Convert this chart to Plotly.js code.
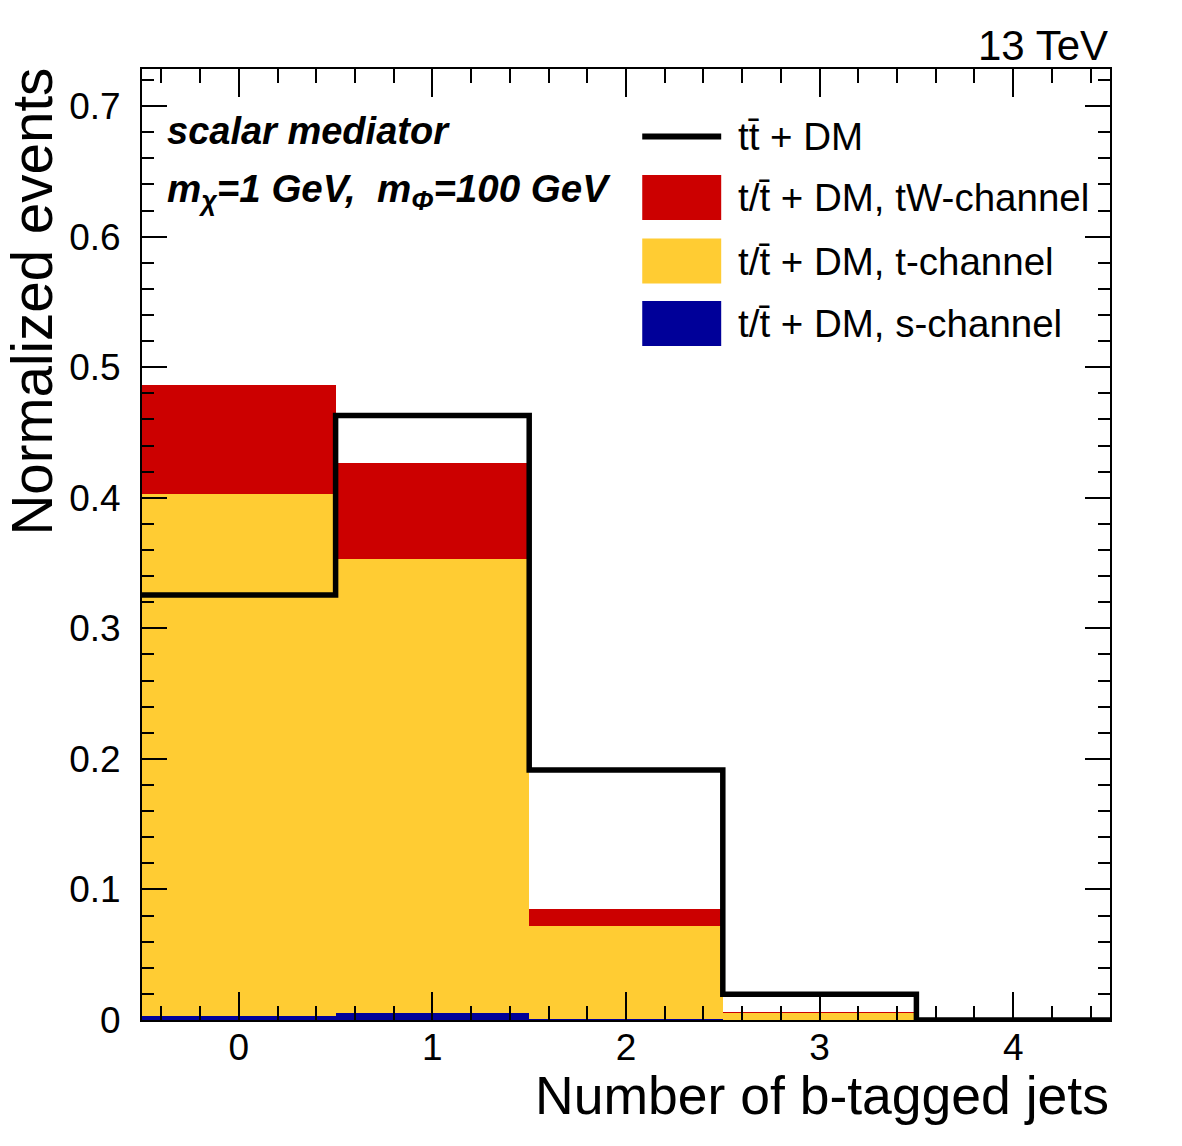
<!DOCTYPE html>
<html>
<head>
<meta charset="utf-8">
<script src="https://cdn.plot.ly/plotly-3.0.1.min.js"></script>
<style>html,body{margin:0;padding:0;background:#fff;}#chart{width:1182px;height:1146px;}</style>
</head>
<body>
<div id="chart"></div>
<script>
// ---- data ----
const categories = [0, 1, 2, 3, 4];
const sChannel  = [0.003, 0.005, 0.001, 0.0003, 0];
const tChannel  = [0.400, 0.348, 0.071, 0.0047, 0];
const tWChannel = [0.083, 0.074, 0.0128, 0.0012, 0];
const ttDM      = [0.3255, 0.463, 0.1915, 0.0197, 0];
const xTickVals = [0, 1, 2, 3, 4];
const yTickVals = [0, 0.1, 0.2, 0.3, 0.4, 0.5, 0.6, 0.7];
const legendNames = ["tt\u0304 + DM", "t/t\u0304 + DM, tW-channel", "t/t\u0304 + DM, t-channel", "t/t\u0304 + DM, s-channel"];
const colRed = "#cc0000", colYellow = "#ffcc33", colBlue = "#000099";

const FONT = "Liberation Sans, Arial, Helvetica, sans-serif";

// step-line edges for the tt+DM histogram
const edges = categories.map(c => c - 0.5).concat([categories[categories.length - 1] + 0.5]);
const stepY = ttDM.concat([ttDM[ttDM.length - 1]]);

const traces = [
  {type: "bar", x: categories, y: sChannel, marker: {color: colBlue, line: {width: 0}}, width: 1, showlegend: false, hoverinfo: "skip"},
  {type: "bar", x: categories, y: tChannel, marker: {color: colYellow, line: {width: 0}}, width: 1, showlegend: false, hoverinfo: "skip"},
  {type: "bar", x: categories, y: tWChannel, marker: {color: colRed, line: {width: 0}}, width: 1, showlegend: false, hoverinfo: "skip"},
  {type: "scatter", mode: "lines", x: edges, y: stepY, line: {color: "#000", width: 5.5, shape: "hv"}, showlegend: false, hoverinfo: "skip"}
];

// manual ROOT-style legend
const W = 1182, H = 1146, ML = 141.5, MR = 72, MT = 69, MB = 126;
const pw = W - ML - MR, ph = H - MT - MB;
const px = X => (X - ML) / pw;
const py = Y => (H - MB - Y) / ph;

const legY = [136.5, 197.5, 261, 323.5];
const legFill = [null, colRed, colYellow, colBlue];
const shapes = [];
const annotations = [];
legY.forEach((yy, i) => {
  if (i === 0) {
    shapes.push({type: "line", xref: "paper", yref: "paper", x0: px(642), x1: px(721), y0: py(yy), y1: py(yy), line: {color: "#000", width: 6}});
  } else {
    shapes.push({type: "rect", xref: "paper", yref: "paper", x0: px(642), x1: px(721), y0: py(yy - 22.5), y1: py(yy + 22.5), fillcolor: legFill[i], line: {width: 0}});
  }
  annotations.push({xref: "paper", yref: "paper", x: px(736), y: py(yy), xanchor: "left", yanchor: "middle", showarrow: false,
    text: legendNames[i], font: {family: FONT, size: 38.5, color: "#000"}});
});

annotations.push({xref: "paper", yref: "paper", x: px(165), y: py(131), xanchor: "left", yanchor: "middle", showarrow: false,
  text: "<b><i>scalar mediator</i></b>", font: {family: FONT, size: 38, color: "#000"}});
annotations.push({xref: "paper", yref: "paper", x: px(165), y: py(192), xanchor: "left", yanchor: "middle", showarrow: false,
  text: "<b><i>m<sub>\u03c7</sub>=1 GeV,  m<sub>\u03a6</sub>=100 GeV</i></b>", font: {family: FONT, size: 38.5, color: "#000"}});
annotations.push({xref: "paper", yref: "paper", x: 1, y: py(46), xanchor: "right", yanchor: "middle", showarrow: false,
  text: "13 TeV", font: {family: FONT, size: 42, color: "#000"}});
annotations.push({xref: "paper", yref: "paper", x: 1.001, y: py(1095), xanchor: "right", yanchor: "middle", showarrow: false,
  text: "Number of b-tagged jets", font: {family: FONT, size: 53.5, color: "#000"}});
annotations.push({xref: "paper", yref: "paper", x: px(31), y: py(66), xanchor: "center", yanchor: "top", textangle: -90, showarrow: false,
  text: "Normalized events", font: {family: FONT, size: 56.5, color: "#000"}});

const layout = {
  width: W, height: H,
  margin: {l: ML, r: MR, t: MT, b: MB, pad: 0},
  paper_bgcolor: "#fff", plot_bgcolor: "#fff",
  barmode: "stack", bargap: 0,
  showlegend: false,
  font: {family: FONT, color: "#000"},
  xaxis: {
    range: [-0.5, 4.5], tickmode: "array", tickvals: xTickVals, ticktext: xTickVals.map(String),
    ticks: "inside", ticklen: 28, tickwidth: 2, tickcolor: "#000",
    minor: {dtick: 0.2, tick0: 0, ticks: "inside", ticklen: 14, tickwidth: 2, tickcolor: "#000"},
    showline: true, linecolor: "#000", linewidth: 2, mirror: "allticks",
    showgrid: false, zeroline: false, tickfont: {family: FONT, size: 37, color: "#000"},
    ticklabelstandoff: -6
  },
  yaxis: {
    range: [0, 0.7284], tickmode: "array", tickvals: yTickVals, ticktext: yTickVals.map(v => v === 0 ? "0" : v.toFixed(1)),
    ticks: "inside", ticklen: 25, tickwidth: 2, tickcolor: "#000",
    minor: {dtick: 0.02, tick0: 0, ticks: "inside", ticklen: 12, tickwidth: 2, tickcolor: "#000"},
    showline: true, linecolor: "#000", linewidth: 2, mirror: "allticks",
    showgrid: false, zeroline: false, tickfont: {family: FONT, size: 37, color: "#000"},
    ticklabelstandoff: 12
  },
  shapes: shapes,
  annotations: annotations
};

Plotly.newPlot("chart", traces, layout, {displayModeBar: false, staticPlot: true});
</script>
</body>
</html>
